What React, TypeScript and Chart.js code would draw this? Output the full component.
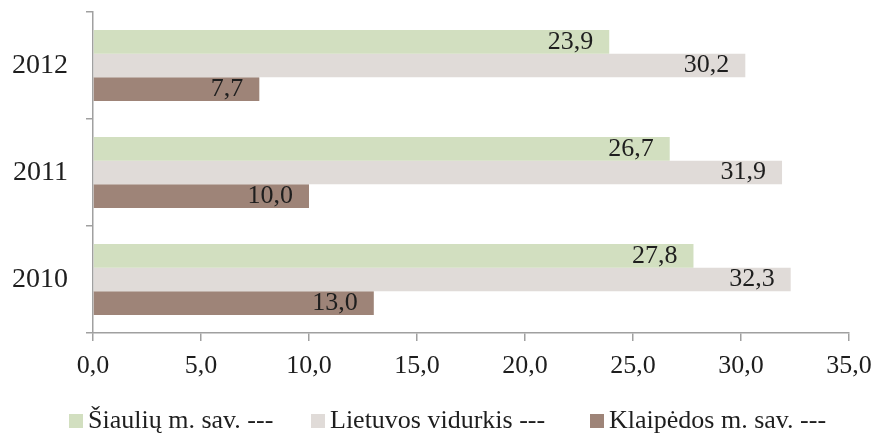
import React, { useEffect, useRef } from "react";
import { Chart, registerables } from "chart.js";

Chart.register(...registerables);

const years = ["2012", "2011", "2010"];
const siauliai = [23.9, 26.7, 27.8];
const lietuva = [30.2, 31.9, 32.3];
const klaipeda = [7.7, 10.0, 13.0];
const seriesNames = ["Šiaulių m. sav. ---", "Lietuvos vidurkis ---", "Klaipėdos m. sav. ---"];
const seriesColors = ["#d2dfc0", "#e0dbd8", "#9e8478"];
const xTicks = [0, 5, 10, 15, 20, 25, 30, 35];

const FONT = "Liberation Serif";
const fmt = (v: number) => v.toFixed(1).replace(".", ",");

const valueLabels = {
  id: "valueLabels",
  afterDatasetsDraw(chart: any) {
    const ctx = chart.ctx;
    ctx.save();
    ctx.font = `26px "${FONT}"`;
    ctx.fillStyle = "#1e1e1e";
    ctx.textAlign = "right";
    ctx.textBaseline = "middle";
    chart.data.datasets.forEach((ds: any, i: number) => {
      const meta = chart.getDatasetMeta(i);
      meta.data.forEach((bar: any, j: number) => {
        ctx.fillText(fmt(ds.data[j]), bar.x - 16, bar.y);
      });
    });
    ctx.restore();
  },
};

const customLegend = {
  id: "customLegend",
  afterDraw(chart: any) {
    const ctx = chart.ctx;
    const boxX = [69, 311, 590];
    ctx.save();
    ctx.font = `26px "${FONT}"`;
    ctx.textAlign = "left";
    ctx.textBaseline = "alphabetic";
    chart.data.datasets.forEach((ds: any, i: number) => {
      const x = boxX[i];
      ctx.fillStyle = ds.backgroundColor;
      ctx.fillRect(x, 414, 14, 14);
      ctx.fillStyle = "#1e1e1e";
      ctx.fillText(ds.label, x + 19, 428);
    });
    ctx.restore();
  },
};

export default function App() {
  const ref = useRef<HTMLCanvasElement>(null);
  useEffect(() => {
    document.body.style.margin = "0";
    if (!ref.current) return;
    const chart = new Chart(ref.current, {
      type: "bar",
      data: {
        labels: years,
        datasets: [
          { label: seriesNames[0], data: siauliai, backgroundColor: seriesColors[0] },
          { label: seriesNames[1], data: lietuva, backgroundColor: seriesColors[1] },
          { label: seriesNames[2], data: klaipeda, backgroundColor: seriesColors[2] },
        ],
      },
      options: {
        indexAxis: "y",
        responsive: false,
        animation: false,
        devicePixelRatio: 1,
        layout: { padding: { top: 12, right: 25, left: 0, bottom: 0 } },
        datasets: {
          bar: { categoryPercentage: 0.665, barPercentage: 1.0 },
        },
        plugins: {
          legend: { display: false },
          tooltip: { enabled: false },
        },
        scales: {
          x: {
            min: 0,
            max: 35,
            afterBuildTicks(scale: any) {
              scale.ticks = xTicks.map((v) => ({ value: v }));
            },
            afterFit(scale: any) {
              scale.height = 100;
              scale.paddingLeft = 0;
              scale.paddingRight = 0;
            },
            ticks: {
              font: { family: FONT, size: 26 },
              color: "#1e1e1e",
              padding: 10,
              maxRotation: 0,
              autoSkip: false,
              callback: (v: any) => fmt(Number(v)),
            },
            grid: {
              drawOnChartArea: false,
              drawTicks: true,
              tickLength: 8,
              color: "#a0a0a0",
              lineWidth: 1.5,
            },
            border: { color: "#a0a0a0", width: 1.5 },
          },
          y: {
            afterFit(scale: any) {
              scale.width = 93;
              scale.paddingTop = 0;
              scale.paddingBottom = 0;
            },
            ticks: {
              font: { family: FONT, size: 28 },
              color: "#1e1e1e",
              padding: 18,
            },
            grid: {
              offset: true,
              drawOnChartArea: false,
              drawTicks: true,
              tickLength: 7,
              color: "#a0a0a0",
              lineWidth: 1.5,
            },
            border: { color: "#a0a0a0", width: 1.5 },
          },
        },
      },
      plugins: [valueLabels, customLegend],
    });
    return () => chart.destroy();
  }, []);
  return (
    <div style={{ width: 874, height: 433 }}>
      <canvas ref={ref} width={874} height={433} style={{ display: "block" }} />
    </div>
  );
}
